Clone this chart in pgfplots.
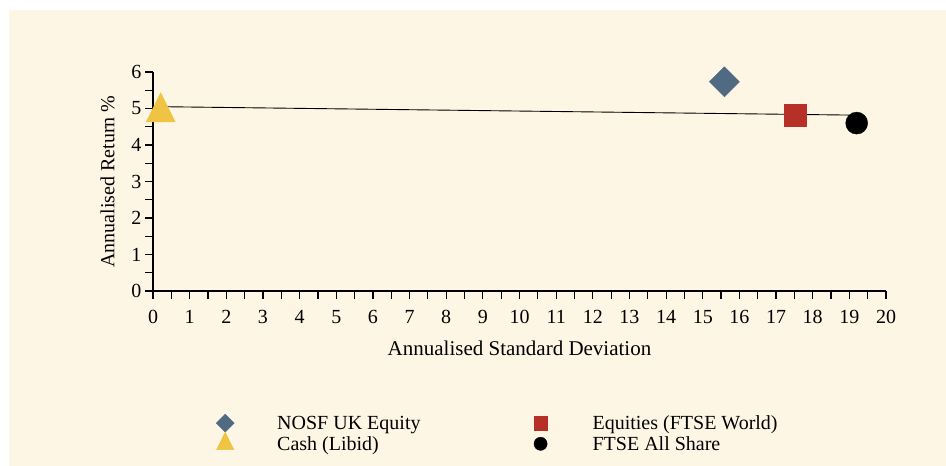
\documentclass[border=0pt]{standalone}
\usepackage{pgfplots}
\pgfplotsset{compat=1.18}
\usepackage{fontspec}
\setmainfont{Liberation Serif}
\definecolor{bg}{RGB}{253,246,229}
\definecolor{nosf}{RGB}{80,106,131}
\definecolor{eq}{RGB}{182,48,40}
\definecolor{cash}{RGB}{238,196,66}
\pgfplotsset{mk/.style={only marks, legend image code/.code={\path[draw=none,fill=none] (-9bp,-9bp) rectangle (9bp,9bp); \draw[##1] plot coordinates {(0bp,0bp)};}}}
\begin{document}
\begin{tikzpicture}[font=\fontsize{20bp}{23bp}\selectfont]
\path[use as bounding box] (0bp,0bp) rectangle (946bp,466bp);
\fill[bg] (9bp,0bp) rectangle (946bp,456bp);
\begin{axis}[
  at={(153bp,175bp)}, anchor=south west, scale only axis,
  width=733bp, height=219bp,
  xmin=0, xmax=20, ymin=0, ymax=6,
  axis lines*=left,
  axis line style={line width=1.5bp},
  xtick={0,...,20}, ytick={0,...,6}, minor tick num=1,
  tick align=outside, major tick length=8bp, minor tick length=8bp,
  tick style={black, line width=1.2bp},
  /pgf/number format/assume math mode=true,
  xticklabel style={yshift=-8bp},
  xlabel={Annualised Standard Deviation},
  xlabel style={font=\fontsize{21bp}{24bp}\selectfont, yshift=-10bp},
  ylabel={Annualised Return \%},
  ylabel style={yshift=10bp},
  clip=false,
  legend columns=2, legend cell align=left,
  legend style={draw=none, fill=none, inner sep=0pt, at={(0.086,-0.5616)}, anchor=north west,
    row sep=0bp, nodes={inner sep=0pt},
    /tikz/every odd column/.append style={column sep=43bp},
    /tikz/every even column/.append style={column sep=111bp}},
  legend image post style={every mark/.append style={scale=0.6}},
]
\addplot[forget plot, black, line width=0.9bp] coordinates {(0.21,5.05) (19.0,4.82)};
\addplot[mk, color=nosf, mark=square*, mark size=10.6bp, mark options={rotate=45}] coordinates {(15.59,5.73)};
\addlegendentry{NOSF UK Equity}
\addplot[mk, color=eq, mark=square*, mark size=11bp] coordinates {(17.52,4.82)};
\addlegendentry{Equities (FTSE World)}
\addplot[mk, color=cash, mark=triangle*, mark size=16.7bp, mark options={yscale=1.16}] coordinates {(0.21,4.9)};
\addlegendentry{Cash (Libid)}
\addplot[mk, color=black, mark=*, mark size=11bp] coordinates {(19.2,4.6)};
\addlegendentry{FTSE All Share}
\end{axis}
\end{tikzpicture}
\end{document}
